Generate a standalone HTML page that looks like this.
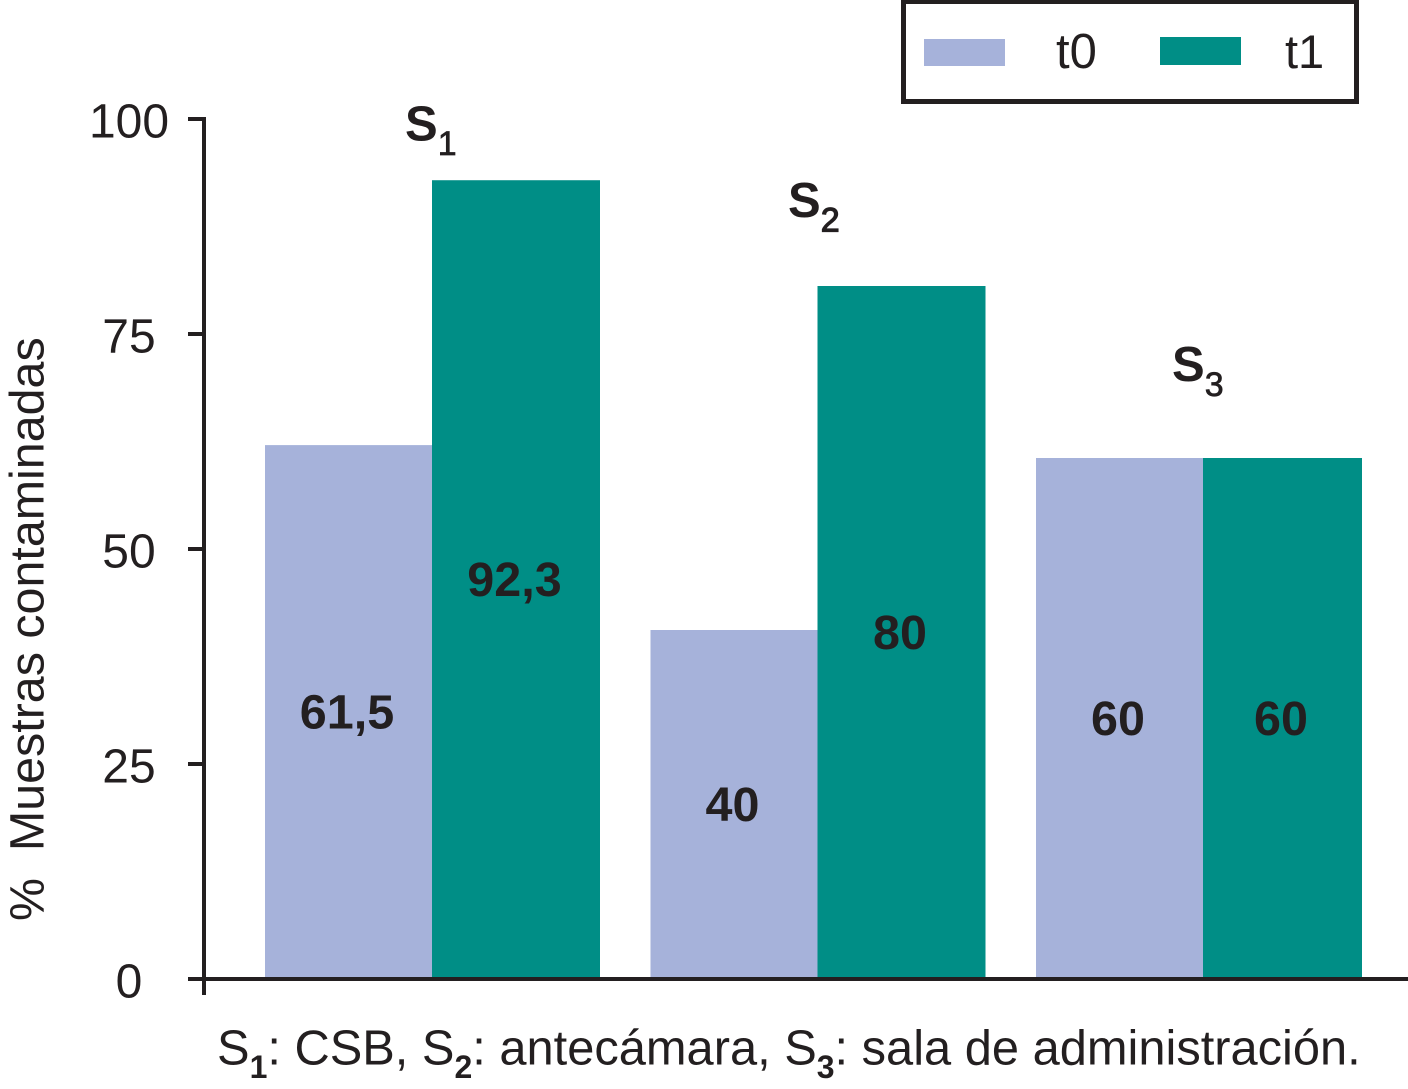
<!DOCTYPE html>
<html lang="es">
<head>
<meta charset="utf-8">
<title>Muestras contaminadas</title>
<style>
html,body{margin:0;padding:0;background:#fff;width:1408px;height:1089px;overflow:hidden}
svg{display:block}
text{font-family:"Liberation Sans",Arial,sans-serif;fill:#231f20}
</style>
</head>
<body>
<svg id="chart" xmlns="http://www.w3.org/2000/svg" width="1408" height="1089" viewBox="0 0 1408 1089">
  <rect x="0" y="0" width="1408" height="1089" fill="#ffffff"/>
  <g id="bars"></g>
  <g id="value-labels"></g>
  <g id="axis"></g>

  <text x="405" y="140.5" font-size="49" font-weight="700">S<tspan font-size="34" font-weight="400" stroke="#231f20" stroke-width="0.7" dy="14.5">1</tspan></text>
  <text x="788" y="217" font-size="49" font-weight="700">S<tspan font-size="34" font-weight="400" stroke="#231f20" stroke-width="1.2" dy="14.5">2</tspan></text>
  <text x="1172" y="381" font-size="49" font-weight="700">S<tspan font-size="34" font-weight="400" stroke="#231f20" stroke-width="0.7" dy="15">3</tspan></text>

  <text transform="translate(43.5,921) rotate(-90)" font-size="48.4" xml:space="preserve">%  Muestras contaminadas</text>

  <text x="217" y="1064.5" font-size="48.8">S<tspan font-size="32" font-weight="700" dy="13.5">1</tspan><tspan dy="-13.5">: CSB, S</tspan><tspan font-size="32" font-weight="700" dy="13.5">2</tspan><tspan dy="-13.5">: antecámara, S</tspan><tspan font-size="32" font-weight="700" dy="13.5">3</tspan><tspan dy="-13.5">: sala de administración.</tspan></text>

  <g>
    <rect x="903.5" y="1.5" width="453" height="100" fill="#ffffff" stroke="#231f20" stroke-width="5"/>
    <rect x="924" y="39" width="81" height="27" fill="#a6b2da"/>
    <text x="1056" y="68" font-size="49">t0</text>
    <rect x="1160" y="37" width="81" height="28" fill="#008e86"/>
    <text x="1285" y="68" font-size="47">t1</text>
  </g>
</svg>
<script>
const categories = ['S1', 'S2', 'S3'];
const seriesT0 = [61.5, 40, 60];
const seriesT1 = [92.3, 80, 60];
const yTicks = [0, 25, 50, 75, 100];

const NS = 'http://www.w3.org/2000/svg';
const barsLayer = document.getElementById('bars');
const labelsLayer = document.getElementById('value-labels');
const axisLayer = document.getElementById('axis');

const yZero = 979;
const yUnit = 8.6;
const barLift = 5;
const plotRight = 1362;
const firstGroupX = 265;
const groupStep = 385.5;
const t0Width = 167;
const t1Width = 168;

function yScale(v) { return yZero - v * yUnit; }
function barTop(v) { return yScale(v) - barLift; }
function groupX(i) { return firstGroupX + i * groupStep; }
function fmt(v) { return String(v).replace('.', ','); }

function make(tag, attrs) {
  const el = document.createElementNS(NS, tag);
  Object.keys(attrs).forEach(function (k) { el.setAttribute(k, attrs[k]); });
  return el;
}

function drawBar(cat, seriesName, value, x, width, fill) {
  const right = Math.min(x + width, plotRight);
  const top = barTop(value);
  const rect = make('rect', { x: x, y: top, width: right - x, height: yZero - top, fill: fill });
  
  
  barsLayer.appendChild(rect);

  const label = make('text', {
    x: (x + right) / 2 - 1.5,
    y: (top + yZero) / 2 + 16.5,
    'font-size': 48.5,
    'font-weight': 700,
    'text-anchor': 'middle'
  });
  
  
  label.textContent = fmt(value);
  labelsLayer.appendChild(label);
}

categories.forEach(function (cat, i) {
  drawBar(cat, 't0', seriesT0[i], groupX(i), t0Width, '#a6b2da');
  drawBar(cat, 't1', seriesT1[i], groupX(i) + t0Width, t1Width, '#008e86');
});

const yLine = make('line', { x1: 204, x2: 204, y1: yScale(100) - 2, y2: 995, stroke: '#231f20', 'stroke-width': 4 });


axisLayer.appendChild(yLine);

const xLine = make('line', { x1: 188, x2: 1408, y1: yZero, y2: yZero, stroke: '#231f20', 'stroke-width': 4 });


axisLayer.appendChild(xLine);

yTicks.forEach(function (t) {
  const y = yScale(t);
  const tick = make('line', { x1: 188, x2: 204, y1: y, y2: y, stroke: '#231f20', 'stroke-width': 4 });
  
  
  axisLayer.appendChild(tick);

  const label = make('text', { x: 129, y: y + 18.5, 'font-size': 48, 'text-anchor': 'middle' });
  
  
  label.textContent = String(t);
  axisLayer.appendChild(label);
});
</script>
</body>
</html>
